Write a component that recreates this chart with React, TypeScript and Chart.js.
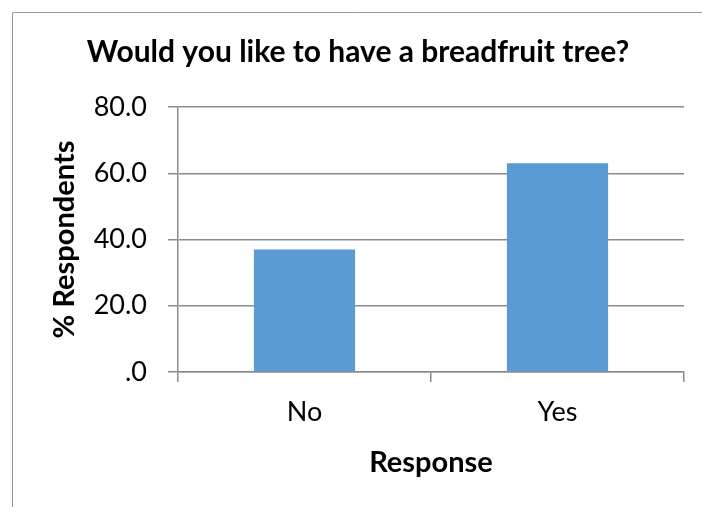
import { useEffect, useRef } from "react";
import { Chart, registerables } from "chart.js";

Chart.register(...registerables);

const categories = ["No", "Yes"];
const respondentsPct = [37.0, 63.0];
const yTickValues = [0, 20, 40, 60, 80];
const chartTitle = "Would you like to have a breadfruit tree?";
const xAxisTitle = "Response";
const yAxisTitle = "% Respondents";

const FONT = "Lato, 'Open Sans', sans-serif";
const GRID = "#8c8c8c";
const BAR = "#5B9BD5";

function formatTick(v: number): string {
  return v === 0 ? ".0" : v.toFixed(1);
}

export default function App() {
  const ref = useRef<HTMLCanvasElement>(null);

  useEffect(() => {
    document.body.style.margin = "0";
    const frame = {
      id: "frame",
      beforeDraw(chart: any) {
        const ctx = chart.ctx;
        ctx.save();
        ctx.fillStyle = "#ffffff";
        ctx.fillRect(0, 0, chart.width, chart.height);
        ctx.strokeStyle = "#999999";
        ctx.lineWidth = 1;
        ctx.beginPath();
        ctx.moveTo(12.5, chart.height);
        ctx.lineTo(12.5, 12.5);
        ctx.lineTo(chart.width, 12.5);
        ctx.stroke();
        ctx.restore();
      },
    };
    const chart = new Chart(ref.current as HTMLCanvasElement, {
      type: "bar",
      data: {
        labels: categories,
        datasets: [
          {
            data: respondentsPct,
            backgroundColor: BAR,
            categoryPercentage: 1,
            barPercentage: 0.4,
          },
        ],
      },
      plugins: [frame],
      options: {
        responsive: false,
        animation: false,
        layout: { padding: { left: 32, right: 18, top: 0, bottom: 0 } },
        plugins: {
          legend: { display: false },
          tooltip: { enabled: false },
          title: {
            display: true,
            text: chartTitle,
            color: "#000",
            font: { family: FONT, size: 30, weight: "bold" },
            padding: { top: 34, bottom: 37 },
          },
        },
        scales: {
          x: {
            offset: true,
            grid: {
              display: true,
              drawOnChartArea: false,
              offset: true,
              color: GRID,
              tickLength: 10,
              lineWidth: 1.5,
            },
            border: { display: true, color: GRID, width: 1.5 },
            ticks: { color: "#000", font: { family: FONT, size: 27 }, padding: 14 },
            title: {
              display: true,
              text: xAxisTitle,
              color: "#000",
              font: { family: FONT, size: 29, weight: "bold" },
              padding: { top: 0, bottom: 27 },
            },
            afterFit(s: any) {
              s.height = 135;
            },
          },
          y: {
            min: 0,
            max: 80,
            afterBuildTicks(s: any) {
              s.ticks = yTickValues.map((v) => ({ value: v }));
            },
            ticks: {
              color: "#000",
              font: { family: FONT, size: 27 },
              padding: 21,
              callback: (v: any) => formatTick(Number(v)),
            },
            grid: { color: GRID, tickLength: 10, lineWidth: 1.5 },
            border: { display: true, color: GRID, width: 1.5 },
            title: {
              display: true,
              text: yAxisTitle,
              color: "#000",
              font: { family: FONT, size: 29, weight: "bold" },
              padding: { top: 15, bottom: 0 },
            },
            afterFit(s: any) {
              s.width = 146;
            },
          },
        },
      },
    });
    return () => chart.destroy();
  }, []);

  return <canvas ref={ref} width={702} height={507} style={{ display: "block" }} />;
}
